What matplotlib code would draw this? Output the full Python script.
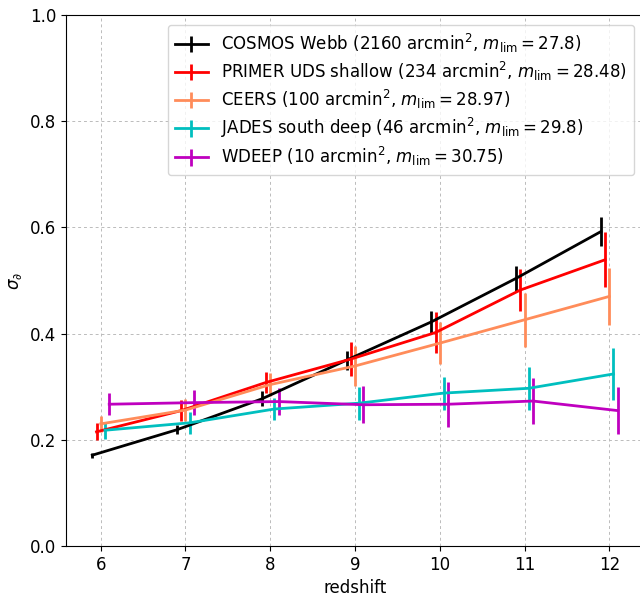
import numpy as np
import matplotlib.pyplot as plt

# redshift bins
z = np.array([6, 7, 8, 9, 10, 11, 12])

labels = [r'COSMOS Webb (2160 arcmin$^2$, $m_{\rm lim}=27.8$)',
          r'PRIMER UDS shallow (234 arcmin$^2$, $m_{\rm lim}=28.48$)',
          r'CEERS (100 arcmin$^2$, $m_{\rm lim}=28.97$)',
          r'JADES south deep (46 arcmin$^2$, $m_{\rm lim}=29.8$)',
          r'WDEEP (10 arcmin$^2$, $m_{\rm lim}=30.75$)']
colors = ['k', 'r', '#ff8c5a', 'c', 'm']
offsets = [-0.1, -0.05, 0.0, 0.05, 0.1]

cosmos = [0.171, 0.219, 0.277, 0.350, 0.422, 0.504, 0.592]
cosmos_err = [0.005, 0.008, 0.014, 0.018, 0.021, 0.024, 0.027]
primer = [0.215, 0.255, 0.308, 0.352, 0.402, 0.482, 0.539]
primer_err = [0.016, 0.020, 0.020, 0.032, 0.038, 0.040, 0.052]
ceers = [0.230, 0.256, 0.304, 0.339, 0.382, 0.426, 0.470]
ceers_err = [0.015, 0.021, 0.022, 0.037, 0.039, 0.051, 0.053]
jades = [0.218, 0.232, 0.258, 0.269, 0.288, 0.297, 0.324]
jades_err = [0.016, 0.021, 0.021, 0.031, 0.031, 0.041, 0.049]
wdeep = [0.267, 0.270, 0.272, 0.266, 0.267, 0.273, 0.255]
wdeep_err = [0.021, 0.023, 0.026, 0.035, 0.042, 0.043, 0.044]

values = [cosmos, primer, ceers, jades, wdeep]
errors = [cosmos_err, primer_err, ceers_err, jades_err, wdeep_err]

fig = plt.figure(figsize=(6.4, 5.96), dpi=100)
ax = fig.add_axes([66/640, 50/596, 578/640, 531/596])

for v, e, c, off, lab in zip(values, errors, colors, offsets, labels):
    ax.errorbar(z + off, v, yerr=e, color=c, lw=2, elinewidth=2, label=lab)

ax.set_ylim(0, 1)
ax.set_xlabel('redshift', fontsize=12)
ax.set_ylabel(r'$\sigma_\partial$', fontsize=12)
ax.tick_params(labelsize=12)
ax.grid(True, ls=(0, (3, 3)), color='#bbbbbb', lw=0.7)
ax.legend(loc='upper right', fontsize=12, labelspacing=0.3, borderaxespad=0.6)

plt.savefig('out.png', dpi=100)
